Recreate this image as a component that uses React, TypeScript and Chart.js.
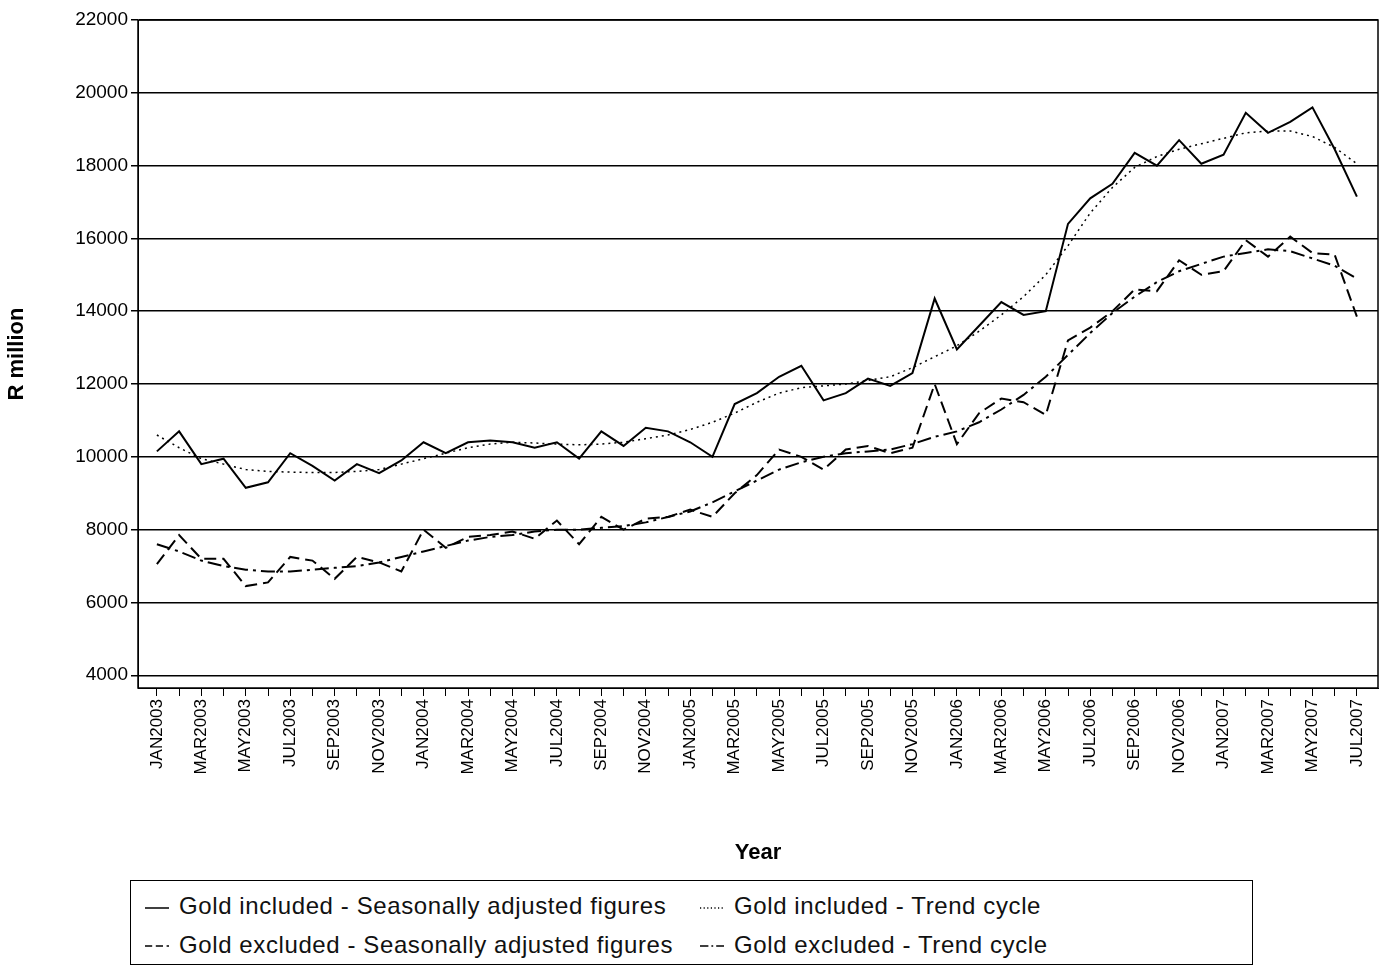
import { useEffect, useRef } from "react"
import { Chart, registerables } from "chart.js"

Chart.register(...registerables)

const MONTHS = ["JAN", "FEB", "MAR", "APR", "MAY", "JUN", "JUL", "AUG", "SEP", "OCT", "NOV", "DEC"]
const months: string[] = []
for (let y = 2003; y <= 2007; y++) {
  for (const m of MONTHS) months.push(m + y)
}
const categories = months.slice(0, 55)

const goldInclSA = [
  10150, 10700, 9800, 9950, 9150, 9300, 10100, 9750, 9350, 9800, 9550, 9900,
  10400, 10100, 10400, 10450, 10400, 10250, 10400, 9950, 10700, 10300, 10800, 10700,
  10400, 10000, 11450, 11750, 12200, 12500, 11550, 11750, 12150, 11950, 12300, 14350,
  12950, 13600, 14250, 13900, 14000, 16400, 17100, 17500, 18350, 18000, 18700, 18050,
  18300, 19450, 18900, 19200, 19600, 18450, 17150,
]
const goldInclTrend = [
  10600, 10250, 9950, 9800, 9650, 9600, 9580, 9570, 9570, 9600, 9650, 9800,
  9950, 10100, 10250, 10350, 10400, 10380, 10350, 10330, 10350, 10400, 10500, 10600,
  10750, 10950, 11200, 11500, 11750, 11900, 11950, 12000, 12100, 12200, 12450, 12750,
  13050, 13450, 13900, 14400, 15000, 15800, 16700, 17400, 17950, 18250, 18450, 18600,
  18750, 18900, 18950, 18950, 18800, 18500, 18050,
]
const goldExclSA = [
  7050, 7850, 7200, 7200, 6450, 6550, 7250, 7150, 6650, 7250, 7100, 6850,
  8000, 7500, 7800, 7850, 7950, 7750, 8250, 7600, 8350, 8000, 8300, 8350,
  8550, 8350, 9000, 9500, 10200, 10000, 9650, 10200, 10300, 10100, 10250, 12000,
  10350, 11200, 11600, 11500, 11150, 13200, 13550, 14000, 14600, 14550, 15400, 15000,
  15100, 15950, 15500, 16050, 15600, 15550, 13850,
]
const goldExclTrend = [
  7600, 7400, 7150, 7000, 6900, 6850, 6850, 6900, 6950, 7000, 7100, 7250,
  7400, 7550, 7700, 7800, 7850, 7950, 8000, 8000, 8050, 8100, 8200, 8350,
  8500, 8750, 9050, 9350, 9650, 9850, 10000, 10100, 10150, 10200, 10350, 10550,
  10700, 10950, 11300, 11700, 12200, 12800, 13400, 13950, 14400, 14800, 15100, 15300,
  15500, 15600, 15700, 15650, 15450, 15250, 14900,
]
const yTicks = [4000, 6000, 8000, 10000, 12000, 14000, 16000, 18000, 20000, 22000]

const seriesStyle = [
  { label: "Gold included - Seasonally adjusted figures", data: goldInclSA, dash: [], width: 2 },
  { label: "Gold included - Trend cycle", data: goldInclTrend, dash: [2, 4], width: 1.5 },
  { label: "Gold excluded - Seasonally adjusted figures", data: goldExclSA, dash: [12, 6], width: 2 },
  { label: "Gold excluded - Trend cycle", data: goldExclTrend, dash: [14, 5, 3, 5], width: 2 },
]

const FONT = "'Liberation Sans', Arial, sans-serif"

const frame = {
  id: "frame",
  afterDraw(chart: Chart) {
    const { ctx, chartArea: a } = chart
    ctx.save()
    ctx.strokeStyle = "#000"
    ctx.lineWidth = 1.5
    ctx.strokeRect(a.left, a.top, a.right - a.left, a.bottom - a.top)
    ctx.restore()
  },
}

function LegendSample({ dash }: { dash: number[] }) {
  return (
    <svg width="24" height="10" style={{ marginRight: 10, verticalAlign: "middle" }}>
      <line x1="0" y1="5" x2="24" y2="5" stroke="#000" strokeWidth="1.5"
        strokeDasharray={dash.length ? dash.map((d) => d * 0.6).join(" ") : undefined} />
    </svg>
  )
}

export default function App() {
  const chartRef = useRef<HTMLCanvasElement>(null)

  useEffect(() => {
    document.body.style.margin = "0"
    if (!chartRef.current) return
    const chart = new Chart(chartRef.current, {
      type: "line",
      data: {
        datasets: seriesStyle.map((s) => ({
          label: s.label,
          data: s.data.map((v, i) => ({ x: i, y: v })),
          borderColor: "#000",
          borderWidth: s.width,
          borderDash: s.dash,
          pointRadius: 0,
          tension: 0,
          fill: false,
        })),
      },
      plugins: [frame],
      options: {
        animation: false,
        responsive: false,
        layout: { padding: { top: 20, right: 6, left: 0, bottom: 0 } },
        plugins: { legend: { display: false }, tooltip: { enabled: false } },
        scales: {
          x: {
            type: "linear",
            min: -0.85,
            max: 54.95,
            afterBuildTicks: (scale: any) => {
              scale.ticks = categories.map((_, i) => ({ value: i }))
            },
            afterFit: (scale: any) => {
              scale.height = 182
            },
            grid: { drawOnChartArea: false, drawTicks: true, tickLength: 8, color: "#000" },
            border: { color: "#000" },
            ticks: {
              autoSkip: false,
              maxRotation: 90,
              minRotation: 90,
              color: "#000",
              font: { family: FONT, size: 17 },
              callback: (v: any) => (Number(v) % 2 === 0 ? categories[Number(v)] : ""),
            },
            title: { display: true, text: "Year", color: "#000", font: { family: FONT, size: 22, weight: "bold" }, padding: { top: 4 } },
          },
          y: {
            min: 3650,
            max: 22000,
            afterBuildTicks: (scale: any) => {
              scale.ticks = yTicks.map((v) => ({ value: v }))
            },
            afterFit: (scale: any) => {
              scale.width = 138
            },
            grid: { color: "#000", lineWidth: 1.5, tickLength: 7 },
            border: { color: "#000" },
            ticks: { color: "#000", font: { family: FONT, size: 19 }, callback: (v: any) => String(v) },
            title: { display: true, text: "R million", color: "#000", font: { family: FONT, size: 22, weight: "bold" } },
          },
        },
      },
    })
    return () => chart.destroy()
  }, [])

  const item = (i: number) => (
    <div style={{ whiteSpace: "nowrap" }}>
      <LegendSample dash={seriesStyle[i].dash} />
      {seriesStyle[i].label}
    </div>
  )

  return (
    <div style={{ width: 1384, fontFamily: FONT }}>
      <canvas ref={chartRef} width={1384} height={870} style={{ display: "block" }} />
      <div
        style={{
          marginLeft: 130,
          marginTop: 10,
          width: 1123,
          height: 85,
          boxSizing: "border-box",
          border: "1.5px solid #000",
          padding: "6px 0 0 14px",
          fontSize: 24,
          letterSpacing: 0.6,
          lineHeight: "38px",
          color: "#111",
          display: "grid",
          gridTemplateColumns: "555px auto",
        }}
      >
        {item(0)}
        {item(1)}
        {item(2)}
        {item(3)}
      </div>
    </div>
  )
}
